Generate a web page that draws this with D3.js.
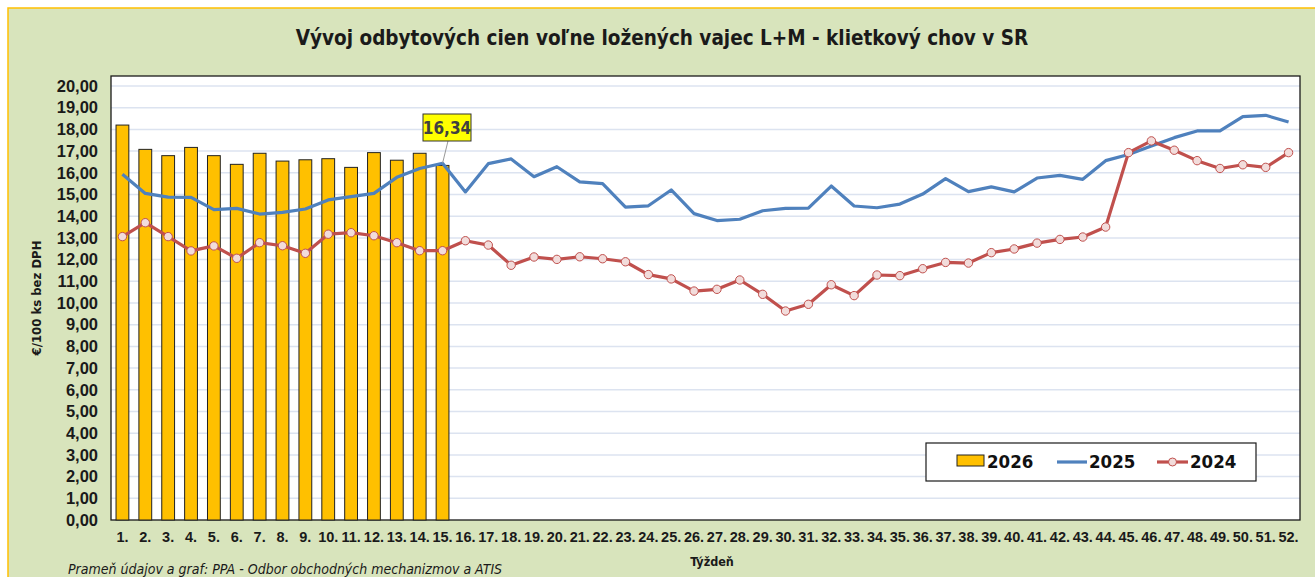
<!DOCTYPE html>
<html>
<head>
<meta charset="utf-8">
<script src="https://cdn.jsdelivr.net/npm/d3@7"></script>
<style>
  body { margin: 0; background: #fff; }
  svg { display: block; font-family: "Liberation Sans Narrow", "DejaVu Sans Condensed", "Open Sans", sans-serif; }
</style>
</head>
<body>
<svg id="chart" width="1315" height="577"></svg>
<script>
// weeks 1..52
var weeks = d3.range(1, 53).map(function(d) { return d + "."; });

var data2026 = [18.20, 17.08, 16.79, 17.17, 16.79, 16.39, 16.90, 16.54, 16.60, 16.65,
  16.25, 16.93, 16.58, 16.90, 16.34];

var data2025 = [15.93, 15.05, 14.88, 14.87, 14.30, 14.36, 14.10, 14.18, 14.33, 14.75,
  14.90, 15.05, 15.79, 16.20, 16.44, 15.12, 16.42, 16.64, 15.82, 16.28,
  15.58, 15.50, 14.42, 14.48, 15.21, 14.12, 13.80, 13.86, 14.25, 14.36,
  14.37, 15.39, 14.47, 14.39, 14.56, 15.02, 15.73, 15.13, 15.35, 15.12,
  15.76, 15.88, 15.70, 16.56, 16.84, 17.24, 17.62, 17.93, 17.93, 18.59,
  18.65, 18.34];

var data2024 = [13.06, 13.70, 13.06, 12.40, 12.63, 12.06, 12.78, 12.64, 12.29, 13.17,
  13.24, 13.10, 12.78, 12.41, 12.41, 12.87, 12.67, 11.74, 12.12, 12.01,
  12.13, 12.04, 11.90, 11.31, 11.11, 10.55, 10.63, 11.06, 10.40, 9.63,
  9.94, 10.84, 10.34, 11.29, 11.26, 11.58, 11.87, 11.84, 12.32, 12.49,
  12.76, 12.93, 13.04, 13.50, 16.93, 17.47, 17.04, 16.56, 16.20, 16.37,
  16.25, 16.93];

var yTicks = d3.range(0, 21);

var svg = d3.select("#chart");

// background
svg.append("rect").attr("x", 8).attr("y", 8).attr("width", 1315).attr("height", 600)
  .attr("fill", "#D8E4BC").attr("stroke", "#FFC000").attr("stroke-width", 1.5);

var margin = {left: 111, top: 76, right: 1300, bottom: 520};

var x = d3.scaleBand().domain(weeks).range([margin.left, margin.right]).paddingInner(0.44).paddingOuter(0.22);
var xc = function(i) { return x(weeks[i]) + x.bandwidth() / 2; };
var y = d3.scaleLinear().domain([0, 20]).range([520, 86]);

// plot area
svg.append("rect").attr("x", margin.left).attr("y", margin.top)
  .attr("width", margin.right - margin.left).attr("height", margin.bottom - margin.top)
  .attr("fill", "#fff");

// grid
svg.append("g").selectAll("line").data(yTicks.slice(1)).enter().append("line")
  .attr("x1", margin.left).attr("x2", margin.right)
  .attr("y1", function(d) { return y(d); }).attr("y2", function(d) { return y(d); })
  .attr("stroke", "#DCE3F0").attr("stroke-width", 1.5);

svg.append("rect").attr("x", margin.left).attr("y", margin.top)
  .attr("width", margin.right - margin.left).attr("height", margin.bottom - margin.top)
  .attr("fill", "none").attr("stroke", "#1a1a1a").attr("stroke-width", 1.3);

// y axis
var yAxis = svg.append("g").attr("transform", "translate(" + margin.left + ",0)")
  .call(d3.axisLeft(y).tickValues(yTicks).tickSize(0).tickPadding(13)
    .tickFormat(function(d) { return d3.format(".2f")(d).replace(".", ","); }));
yAxis.select(".domain").remove();
yAxis.selectAll("text").attr("font-size", 16.5).attr("font-weight", "bold").attr("fill", "#1a1a1a")
  .attr("font-family", "inherit");

// x axis
var xAxis = svg.append("g").attr("transform", "translate(0," + margin.bottom + ")")
  .call(d3.axisBottom(x).tickSize(0).tickPadding(12));
xAxis.select(".domain").remove();
xAxis.selectAll("text").attr("font-size", 14.5).attr("font-weight", "bold").attr("fill", "#1a1a1a")
  .attr("font-family", "inherit");

// bars 2026
svg.append("g").selectAll("rect").data(data2026).enter().append("rect")
  .attr("x", function(d, i) { return x(weeks[i]); })
  .attr("y", function(d) { return y(d); })
  .attr("width", x.bandwidth())
  .attr("height", function(d) { return y(0) - y(d); })
  .attr("fill", "#FFC000").attr("stroke", "#222").attr("stroke-width", 1);

// line 2025
var line = d3.line().x(function(d, i) { return xc(i); }).y(function(d) { return y(d); });
svg.append("path").datum(data2025).attr("d", line)
  .attr("fill", "none").attr("stroke", "#4F81BD").attr("stroke-width", 3.2).attr("stroke-linejoin", "round");

// line 2024
svg.append("path").datum(data2024).attr("d", line)
  .attr("fill", "none").attr("stroke", "#C0504D").attr("stroke-width", 3.2).attr("stroke-linejoin", "round");
svg.append("g").selectAll("circle").data(data2024).enter().append("circle")
  .attr("cx", function(d, i) { return xc(i); })
  .attr("cy", function(d) { return y(d); })
  .attr("r", 4.2)
  .attr("fill", "#F2DCDB").attr("stroke", "#C0504D").attr("stroke-width", 1);

// data label for last 2026 value
var last = data2026.length - 1;
svg.append("line").attr("x1", 448).attr("y1", 141).attr("x2", xc(last)).attr("y2", y(data2025[last]))
  .attr("stroke", "#999").attr("stroke-width", 1);
svg.append("rect").attr("x", 423).attr("y", 114).attr("width", 48).attr("height", 27)
  .attr("fill", "#FFFF00").attr("stroke", "#333").attr("stroke-width", 1);
svg.append("text").attr("x", 447).attr("y", 133.5).attr("text-anchor", "middle")
  .attr("font-size", 17).attr("font-weight", "bold").attr("fill", "#404040")
  .text(d3.format(".2f")(data2026[last]).replace(".", ","));

// title
svg.append("text").attr("x", 662).attr("y", 45).attr("text-anchor", "middle")
  .attr("font-size", 20.5).attr("font-weight", "bold").attr("fill", "#1a1a1a")
  .text("Vývoj odbytových cien voľne ložených vajec L+M - klietkový chov v SR");

// axis titles
svg.append("text").attr("transform", "translate(41,298) rotate(-90)").attr("text-anchor", "middle")
  .attr("font-size", 13).attr("font-weight", "bold").attr("fill", "#1a1a1a")
  .text("€/100 ks bez DPH");
svg.append("text").attr("x", 712).attr("y", 566).attr("text-anchor", "middle")
  .attr("font-size", 12.5).attr("font-weight", "bold").attr("fill", "#1a1a1a")
  .text("Týždeň");
svg.append("text").attr("x", 68).attr("y", 574)
  .attr("font-size", 14).attr("font-style", "italic").attr("fill", "#1a1a1a")
  .text("Prameň údajov a graf: PPA - Odbor obchodných mechanizmov a ATIS");

// legend
var lg = svg.append("g");
lg.append("rect").attr("x", 926).attr("y", 443).attr("width", 330).attr("height", 38)
  .attr("fill", "#fff").attr("stroke", "#1a1a1a").attr("stroke-width", 1.2);
lg.append("rect").attr("x", 957).attr("y", 455).attr("width", 27).attr("height", 11)
  .attr("fill", "#FFC000").attr("stroke", "#222").attr("stroke-width", 1);
lg.append("text").attr("x", 987).attr("y", 468).attr("font-size", 18.5).attr("font-weight", "bold")
  .attr("fill", "#111").text("2026");
lg.append("line").attr("x1", 1057).attr("x2", 1087).attr("y1", 462).attr("y2", 462)
  .attr("stroke", "#4F81BD").attr("stroke-width", 3.2);
lg.append("text").attr("x", 1089).attr("y", 468).attr("font-size", 18.5).attr("font-weight", "bold")
  .attr("fill", "#111").text("2025");
lg.append("line").attr("x1", 1157).attr("x2", 1188).attr("y1", 462).attr("y2", 462)
  .attr("stroke", "#C0504D").attr("stroke-width", 3.2);
lg.append("circle").attr("cx", 1172.5).attr("cy", 462).attr("r", 4)
  .attr("fill", "#F2DCDB").attr("stroke", "#C0504D").attr("stroke-width", 1);
lg.append("text").attr("x", 1190).attr("y", 468).attr("font-size", 18.5).attr("font-weight", "bold")
  .attr("fill", "#111").text("2024");
</script>
</body>
</html>
